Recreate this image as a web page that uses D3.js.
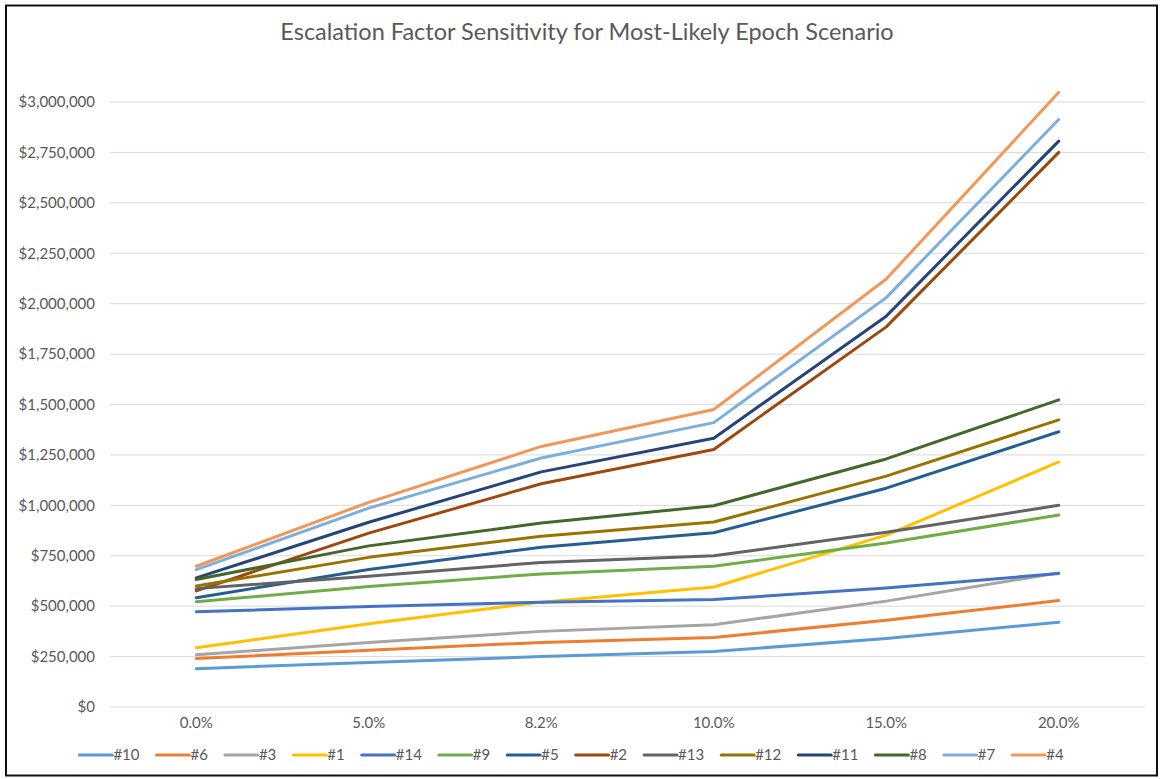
<!DOCTYPE html>
<html>
<head>
<meta charset="utf-8">
<script src="https://cdn.jsdelivr.net/npm/d3@7"></script>
<style>
  body { margin: 0; background: #fff; }
  text { font-family: Lato, "Open Sans", sans-serif; fill: #595959; }
</style>
</head>
<body>
<svg id="chart" width="1161" height="779"></svg>
<script>
// escalation rates (x axis categories)
var categories = ["0.0%", "5.0%", "8.2%", "10.0%", "15.0%", "20.0%"];

// series values
var s10 = [190000, 221000, 250000, 275000, 340000, 420000];
var s6  = [240000, 282000, 320000, 345000, 430000, 528000];
var s3  = [259000, 320000, 375000, 408000, 525000, 665000];
var s1  = [294000, 413000, 520000, 595000, 852000, 1215000];
var s14 = [472000, 498000, 520000, 533000, 590000, 662000];
var s9  = [522000, 597000, 660000, 698000, 813000, 952000];
var s5  = [542000, 682000, 792000, 864000, 1085000, 1365000];
var s2  = [576000, 862000, 1107000, 1277000, 1885000, 2750000];
var s13 = [587000, 648000, 717000, 750000, 866000, 1000000];
var s12 = [600000, 742000, 847000, 917000, 1145000, 1424000];
var s11 = [640000, 916000, 1166000, 1333000, 1938000, 2806000];
var s8  = [632000, 799000, 912000, 998000, 1230000, 1523000];
var s7  = [681000, 986000, 1235000, 1410000, 2030000, 2913000];
var s4  = [698000, 1015000, 1292000, 1475000, 2122000, 3048000];

var seriesNames = ["#10", "#6", "#3", "#1", "#14", "#9", "#5", "#2", "#13", "#12", "#11", "#8", "#7", "#4"];
var seriesValues = [s10, s6, s3, s1, s14, s9, s5, s2, s13, s12, s11, s8, s7, s4];
var seriesColors = ["#5B9BD5", "#ED7D31", "#A5A5A5", "#FFC000", "#4472C4", "#70AD47", "#255E91",
                    "#9E480E", "#636363", "#997300", "#264478", "#43682B", "#7CAFDD", "#F1975A"];

var yTicks = d3.range(0, 3000001, 250000);

var svg = d3.select("#chart");

// outer frame
svg.append("rect")
    .attr("x", 6).attr("y", 5.5)
    .attr("width", 1151).attr("height", 770)
    .attr("fill", "#fff")
    .attr("stroke", "#111")
    .attr("stroke-width", 2);

var plot = {left: 110, right: 1145, top: 102, bottom: 707};

var x = d3.scaleBand().domain(categories).range([plot.left, plot.right]);
var y = d3.scaleLinear().domain([0, 3000000]).range([plot.bottom, plot.top]);
var cx = function(c) { return x(c) + x.bandwidth() / 2; };

// title
svg.append("text")
    .attr("x", 587).attr("y", 40)
    .attr("text-anchor", "middle")
    .style("font-size", "23.5px")
    .text("Escalation Factor Sensitivity for Most-Likely Epoch Scenario");

// gridlines
svg.append("g").selectAll("line")
    .data(yTicks)
    .enter().append("line")
    .attr("x1", plot.left).attr("x2", plot.right)
    .attr("y1", d => y(d)).attr("y2", d => y(d))
    .attr("stroke", "#d9d9d9")
    .attr("stroke-width", 1);

// y axis labels
var fmt = d3.format("$,.0f");
svg.append("g").selectAll("text")
    .data(yTicks)
    .enter().append("text")
    .attr("x", 95)
    .attr("y", d => y(d))
    .attr("dy", "0.35em")
    .attr("text-anchor", "end")
    .style("font-size", "15px")
    .text(d => fmt(d));

// x axis labels
svg.append("g").selectAll("text")
    .data(categories)
    .enter().append("text")
    .attr("x", d => cx(d))
    .attr("y", 723)
    .attr("dy", "0.35em")
    .attr("text-anchor", "middle")
    .style("font-size", "15px")
    .text(d => d);

// series lines
var line = d3.line()
    .x((d, i) => cx(categories[i]))
    .y(d => y(d));

svg.append("g").selectAll("path")
    .data(seriesValues)
    .enter().append("path")
    .attr("d", d => line(d))
    .attr("fill", "none")
    .attr("stroke", (d, i) => seriesColors[i])
    .attr("stroke-width", 3)
    .attr("stroke-linejoin", "round")
    .attr("stroke-linecap", "round");

// legend
var legend = svg.append("g");
var lx = 0, gap = 16;
seriesNames.forEach(function(name, i) {
    var item = legend.append("g").attr("transform", "translate(" + lx + ",0)");
    item.append("line")
        .attr("x1", 1).attr("x2", 34)
        .attr("stroke", seriesColors[i])
        .attr("stroke-width", 3)
        .attr("stroke-linecap", "round");
    var t = item.append("text")
        .attr("x", 35)
        .attr("dy", "0.35em")
        .style("font-size", "15px")
        .text(name);
    lx += 35 + t.node().getComputedTextLength() + gap;
});
lx -= gap;
legend.attr("transform", "translate(" + (571 - lx / 2) + ",755)");
</script>
</body>
</html>
